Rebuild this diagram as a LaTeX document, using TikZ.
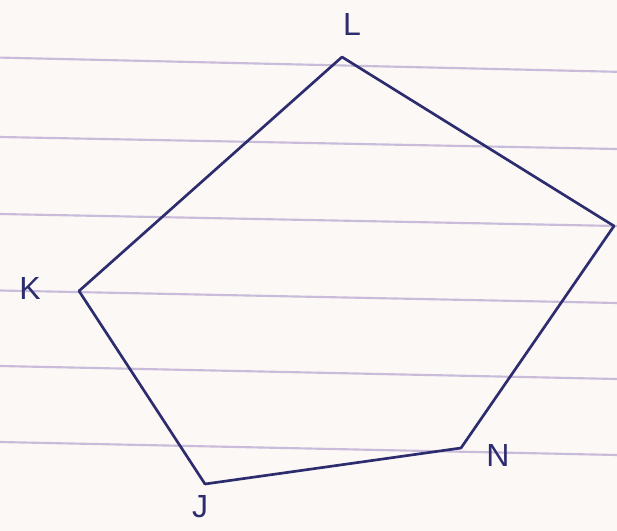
\documentclass[tikz,border=0pt]{standalone}
\usepackage{fontspec}
\setmainfont{Liberation Sans}
\definecolor{paper}{HTML}{FBF8F6}
\definecolor{rule}{HTML}{C9BCDA}
\definecolor{pen}{HTML}{2C2C6E}
\begin{document}
\begin{tikzpicture}[x=0.75pt,y=-0.75pt,
  ruling/.style={draw=rule,line width=1.6pt},
  edge/.style={draw=pen,line width=2pt,line join=round,line cap=round},
  vlabel/.style={text=pen,font=\fontsize{24}{24}\selectfont,inner sep=0pt}]
\fill[paper] (0,0) rectangle (617,531);
\useasboundingbox (0,0) rectangle (617,531);
% ruled paper
\foreach \a/\b in {57.6/71.8,137/149,214/226,290.5/303,366/379,442/455}
  \draw[ruling] (0,\a) -- (617,\b);
% vertices
\coordinate (L) at (342,57);
\coordinate (M) at (614,226);
\coordinate (N) at (461,448);
\coordinate (J) at (205,484);
\coordinate (K) at (79,291);
% edges
\draw[edge] (L) -- (M);
\draw[edge] (M) -- (N);
\draw[edge] (N) -- (J);
\draw[edge] (J) -- (K);
\draw[edge] (K) -- (L);
% labels
\node[vlabel] (lL) at (352,24) {L};
\node[vlabel] (lK) at (30,288) {K};
\node[vlabel] (lJ) at (200,507) {J};
\node[vlabel] (lN) at (498,455) {N};
\end{tikzpicture}
\end{document}
